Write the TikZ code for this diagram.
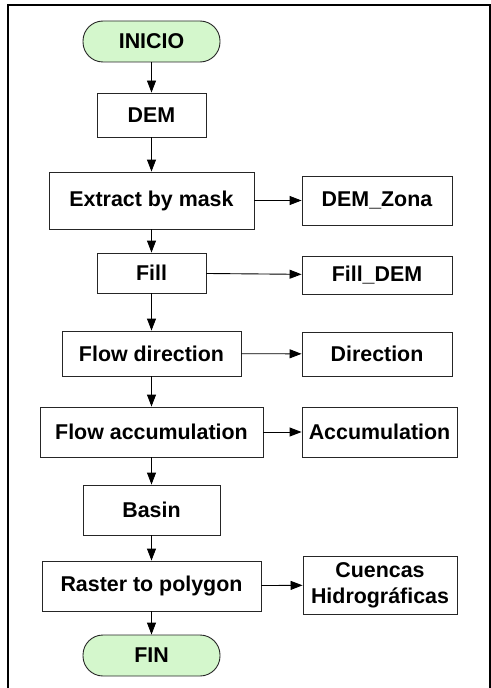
\documentclass[tikz,border=0pt]{standalone}
\usepackage{fontspec}
\setmainfont{Liberation Sans}
\usetikzlibrary{arrows.meta}
\definecolor{termgreen}{HTML}{D4F7CC}
\begin{document}
\begin{tikzpicture}[x=1bp,y=-1bp,
  every node/.style={font=\fontsize{21.4bp}{26bp}\selectfont\bfseries, inner sep=0pt, align=center},
  procbox/.style={draw=black!85, line width=0.9bp, rectangle},
  termbox/.style={draw=black!85, line width=0.9bp, rectangle, rounded corners=20bp, fill=termgreen},
  arr/.style={draw=black, line width=0.9bp, -{Triangle[length=12bp,width=9bp]}}]
\useasboundingbox (0,0) rectangle (491,688);
\draw[line width=2bp] (8,700) -- (8,5) -- (490,5) -- (490,700);
% main column
\node[termbox, minimum width=137bp, minimum height=41bp] (inicio) at (151.5,41.5) {INICIO};
\node[procbox, minimum width=109bp, minimum height=44bp] (dem) at (151.5,115) {DEM};
\node[procbox, minimum width=205bp, minimum height=57bp] (extract) at (151.5,200.5) {Extract by mask};
\node[procbox, minimum width=109bp, minimum height=40bp] (fill) at (151.5,273) {Fill};
\node[procbox, minimum width=179bp, minimum height=45bp] (flowdir) at (151.5,353.5) {Flow direction};
\node[procbox, minimum width=223bp, minimum height=50bp] (flowacc) at (151.5,432) {Flow accumulation};
\node[procbox, minimum width=137bp, minimum height=50bp] (basin) at (151.5,510) {Basin};
\node[procbox, minimum width=219bp, minimum height=50bp] (raster) at (151.5,586) {Raster to polygon};
\node[termbox, minimum width=137bp, minimum height=41bp] (fin) at (151.5,655.5) {FIN};
% right column
\node[procbox, minimum width=150bp, minimum height=49bp] (demzona) at (377,200.5) {DEM\_Zona};
\node[procbox, minimum width=150bp, minimum height=38bp] (filldem) at (377,275) {Fill\_DEM};
\node[procbox, minimum width=150bp, minimum height=44bp] (direction) at (377,354) {Direction};
\node[procbox, minimum width=155bp, minimum height=50bp] (accum) at (379.5,432) {Accumulation};
\node[procbox, minimum width=154bp, minimum height=58bp] (cuencas) at (380,585) {Cuencas\\Hidrográficas};
% vertical arrows
\draw[arr] (inicio) -- (dem);
\draw[arr] (dem) -- (extract);
\draw[arr] (extract) -- (fill);
\draw[arr] (fill) -- (flowdir);
\draw[arr] (flowdir) -- (flowacc);
\draw[arr] (flowacc) -- (basin);
\draw[arr] (basin) -- (raster);
\draw[arr] (raster) -- (fin);
% horizontal arrows
\draw[arr] (extract) -- (demzona);
\draw[arr] (fill) -- (filldem);
\draw[arr] (flowdir) -- (direction);
\draw[arr] (flowacc) -- (accum);
\draw[arr] (raster) -- (cuencas);
\end{tikzpicture}
\end{document}
